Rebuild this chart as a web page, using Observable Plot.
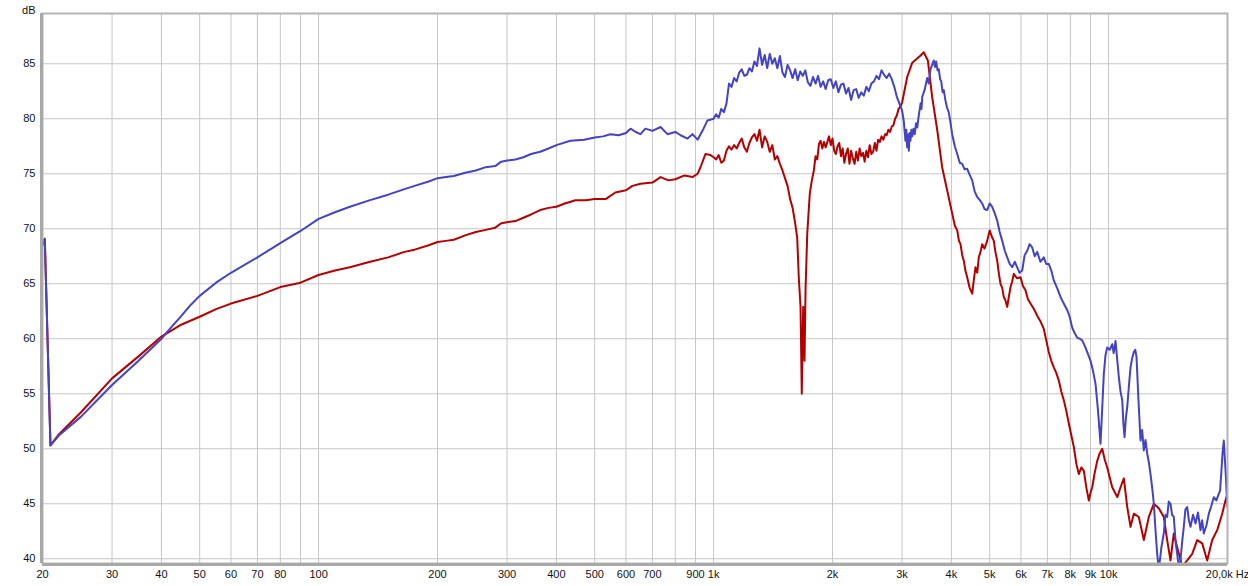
<!DOCTYPE html>
<html><head><meta charset="utf-8">
<script src="https://cdn.jsdelivr.net/npm/d3@7"></script>
<script src="https://cdn.jsdelivr.net/npm/@observablehq/plot@0.6"></script>
<style>html,body{margin:0;padding:0;background:#fff}svg{display:block}</style>
</head><body><div id="chart"></div>
<script>
// Blue series (frequency in Hz, level in dB)
const blueFreq = [20,20.27,20.95,22,25,30,35,40,42.5,45,47.5,50,55,60,70,80,90,100,110,120,135,150,165,175,190,200,210,220,235,250,265,280,290,300,315,330,345,364,382,400,434,470,500,525,548,575,600,616,635,653,672,700,734,764,800,825,859,884,911,943,965,
1000,1015,1030,1046,1062,1078,1094,1110,1127,1144,1161,1178,1196,1214,1232,1250,1269,1288,1307,1327,1347,1367,1387,1408,1429,1450,1472,1494,1516,1539,1562,1585,1609,1633,1657,1682,1707,1733,1759,1785,1812,1839,1866,1894,1922,1951,1980,2010,2040,2070,2101,2132,2164,2196,2229,2262,2296,2330,2365,2400,2436,2472,2509,2547,2585,2623,2662,2702,2742,2783,2825,2867,2910,2953,
3000,3030,3045,3060,3075,3091,3106,3121,3136,3150,3167,3184,3207,3230,3255,3278,3310,3342,3360,3375,3420,3474,3505,3540,3575,3610,3635,3660,3690,3716,3745,3770,3800,3826,3864,3900,3938,3980,
4018,4080,4138,4200,4260,4320,4386,4450,4516,4580,4648,4720,4786,4850,4928,5000,5074,5150,5224,5300,5379,5460,5538,5620,5701,5790,5869,5950,6044,6130,6223,6310,6406,6500,6595,6720,6853,6950,7056,7160,7266,7410,7556,7700,7858,7970,8090,8210,8330,8450,8575,8742,8870,9002,9130,9267,9400,9540,9630,9725,9820,9920,
10070,10214,10300,10414,10510,10616,10720,10829,10900,10974,11060,11149,11250,11364,11470,11584,11680,11768,11900,12044,12160,12281,12400,12526,12640,12768,12890,13016,13150,13275,13399,13600,13795,13930,14070,14200,14345,14480,14625,14780,14917,15060,15206,15350,15502,15650,15813,15970,16120,16360,16598,16840,17086,17250,17420,17680,17936,18200,18466,18740,19012,19150,19281,19420,19572,19700,19800,19900,20000];
const blueDb = [68.8,69.1,50.3,51.2,52.9,55.8,58.0,60.0,61.1,62.1,63.1,63.9,65.1,66.0,67.4,68.7,69.8,70.9,71.5,72.0,72.6,73.1,73.6,73.9,74.3,74.6,74.7,74.8,75.1,75.3,75.6,75.7,76.1,76.2,76.3,76.5,76.8,77.0,77.3,77.6,78.0,78.1,78.3,78.4,78.6,78.5,78.7,79.1,78.8,78.6,79.1,78.9,79.25,78.6,78.8,78.5,78.2,78.6,78.1,79.1,79.85,
80.0,80.4,80.1,80.9,80.6,81.4,83.2,82.9,83.7,83.4,84.2,84.5,83.9,84.0,84.6,84.3,85.2,84.8,86.4,84.9,85.8,84.6,85.9,85.0,85.5,84.6,85.7,84.2,83.8,84.9,84.4,83.7,84.5,83.5,84.3,83.9,84.4,83.3,83.0,83.8,83.2,83.9,82.9,83.4,82.7,83.5,83.6,82.8,83.4,82.4,83.1,83.2,82.3,82.8,81.7,82.6,82.7,81.9,82.4,82.1,82.9,82.5,83.2,83.4,83.9,83.6,84.4,84.0,83.7,84.1,83.6,82.9,82.0,81.4,
80.75,79.8,78.9,78.0,79.0,77.4,78.6,77.1,78.7,78.0,79.0,78.4,79.1,78.6,79.6,79.2,80.4,81.4,80.9,82.0,82.6,83.7,83.2,84.5,84.9,85.3,84.7,85.2,84.4,84.5,83.6,83.4,82.4,82.6,81.65,81.0,80.6,79.6,
78.6,77.5,76.8,76.0,75.9,75.4,75.45,74.9,74.4,73.4,72.9,72.6,72.3,71.8,71.7,72.3,72.0,71.4,70.75,69.7,68.9,68.0,67.4,66.8,66.5,67.0,66.5,66.0,66.2,67.6,68.0,68.6,68.3,67.5,67.9,67.0,67.4,66.8,66.8,66.2,65.3,64.6,63.8,63.2,62.6,62.0,61.0,60.5,60.1,60.0,59.85,59.2,58.6,58.0,57.1,55.9,53.5,50.45,53.5,56.8,58.5,59.2,
59.0,59.5,58.7,59.8,58.2,56.5,55.2,54.4,52.3,51.05,52.8,53.8,55.6,57.4,58.2,58.8,59.0,58.35,54.5,50.75,51.7,49.85,50.8,49.55,48.8,47.7,46.5,45.0,42.5,40.45,39.0,41.0,42.3,44.0,43.8,45.2,45.0,44.0,43.8,41.5,40.45,39.2,39.85,41.5,42.9,44.5,44.7,43.5,42.9,44.0,43.2,44.2,42.6,43.5,42.3,43.0,44.1,44.8,45.6,45.3,45.9,46.2,47.7,49.5,50.75,49.0,47.7,46.0,44.7];

// Red series
const redFreq = [20,20.27,20.95,22,25,30,35,40,45,50,55,60,70,80,90,100,110,120,135,150,165,175,190,200,210,220,235,250,265,280,290,300,315,330,345,364,382,400,420,447,475,500,533,564,600,623,653,700,734,769,800,844,884,911,930,954,982,
1000,1015,1030,1046,1062,1078,1094,1110,1127,1144,1161,1178,1196,1214,1232,1250,1269,1288,1307,1327,1347,1367,1387,1408,1429,1450,1472,1494,1516,1539,1562,1585,1609,1628,1643,1660,1672,1686,1699,1709,1726,1752,1773,1794,1812,1830,1848,1866,1885,1903,1922,1941,1960,1980,2000,2020,2040,2060,2080,2101,2122,2143,2164,2186,2208,2229,2252,2275,2296,2320,2343,2365,2390,2412,2436,2460,2484,2509,2535,2560,2585,2610,2636,2662,2690,2716,2742,2770,2797,2825,2853,2881,2910,2940,2970,
3002,3091,3184,3342,3405,3487,3576,3682,3790,3902,
4018,4080,4138,4180,4218,4260,4300,4340,4386,4450,4516,4560,4603,4650,4692,4740,4786,4850,4928,4965,5000,5060,5122,5170,5224,5280,5326,5380,5429,5480,5538,5590,5645,5700,5754,5860,5983,6070,6161,6250,6343,6470,6595,6720,6853,6950,7056,7160,7266,7370,7482,7590,7704,7820,7931,8050,8166,8290,8407,8530,8656,8790,8913,9000,9091,9220,9359,9500,9635,9780,9920,
10214,10518,10722,10930,11149,11364,11584,11926,12281,12643,13016,13399,13795,14070,14345,14625,14917,15357,15813,16280,16763,17257,17768,18294,18834,19393,19766,20000];
const redDb = [68.5,69.0,50.3,51.3,53.3,56.4,58.4,60.2,61.3,62.0,62.7,63.2,63.9,64.7,65.1,65.8,66.2,66.5,67.0,67.4,67.9,68.1,68.5,68.8,68.9,69.0,69.4,69.7,69.9,70.1,70.5,70.6,70.7,71.0,71.3,71.7,71.9,72.0,72.3,72.6,72.6,72.7,72.7,73.3,73.5,73.9,74.1,74.2,74.7,74.4,74.5,74.85,74.7,75.0,75.75,76.8,76.7,
76.5,76.3,76.7,76.0,76.2,77.1,77.5,77.2,77.6,77.3,77.8,78.2,77.4,77.0,77.8,78.3,78.6,78.0,79.0,77.4,78.4,77.9,77.0,77.6,76.3,76.6,75.9,75.3,74.6,73.9,72.7,71.9,70.5,69.2,65.6,62.9,55.0,62.9,58.0,64.4,69.5,73.2,74.4,75.3,76.6,76.3,77.7,78.0,77.3,77.9,77.4,77.9,78.4,77.6,78.2,77.1,76.8,77.5,77.8,76.6,77.3,76.0,76.8,77.3,75.9,77.1,76.4,75.9,77.0,76.2,77.3,76.6,76.9,76.1,77.1,76.5,77.6,76.8,77.0,77.8,77.1,78.1,77.9,78.4,78.1,78.6,78.5,79.0,78.8,79.3,79.4,80.0,80.3,80.9,81.1,
81.5,83.8,85.1,85.75,86.05,85.3,81.96,79.0,75.6,73.5,
71.4,70.3,69.85,68.9,68.6,67.6,67.1,66.2,65.6,64.6,64.1,65.4,66.5,66.0,67.4,67.9,68.6,68.2,68.9,69.4,69.85,69.3,68.9,67.9,67.1,65.8,65.0,64.6,63.8,63.5,62.9,63.8,64.7,65.2,65.9,65.5,65.6,64.8,64.4,63.6,63.2,62.7,62.1,61.6,60.9,59.9,58.8,58.0,57.4,56.9,56.2,55.2,54.4,53.4,52.3,51.2,50.15,48.6,47.7,48.3,48.0,46.4,45.3,46.0,46.5,47.8,48.9,49.6,50.0,49.0,48.3,
46.5,45.6,46.5,47.3,44.7,42.9,44.1,43.8,41.7,43.8,45.0,44.6,43.8,41.7,39.85,42.3,41.05,39.3,39.85,40.45,41.7,41.4,39.85,41.7,42.6,44.1,45.3,45.9];

// Axes
const yTicks = [40,45,50,55,60,65,70,75,80,85];
const xTicks = [20,30,40,50,60,70,80,100,200,300,400,500,600,700,900,1000,2000,3000,4000,5000,6000,7000,8000,9000,10000,20000];
const xTickLabels = ["20","30","40","50","60","70","80","100","200","300","400","500","600","700","900","1k","2k","3k","4k","5k","6k","7k","8k","9k","10k","20,0k Hz"];
const xGrid = [30,40,50,60,70,80,90,100,200,300,400,500,600,700,800,900,1000,2000,3000,4000,5000,6000,7000,8000,9000,10000];

const blue = blueFreq.map((f, i) => ({f, db: blueDb[i]}));
const red = redFreq.map((f, i) => ({f, db: redDb[i]}));
const xLab = xTicks.map((f, i) => ({f, t: xTickLabels[i]}));
const yMin = 39.57, yMax = 89.57;

const chart = Plot.plot({
  width: 1248, height: 586,
  marginLeft: 42, marginRight: 21, marginTop: 13, marginBottom: 23,
  style: {fontFamily: "'Liberation Sans', Arial, sans-serif", fontSize: "11px", color: "#111", background: "#fff"},
  x: {type: "log", domain: [20, 20000], axis: null},
  y: {domain: [yMin, yMax], axis: null},
  marks: [
    Plot.ruleX(xGrid, {stroke: "#c6c6c6", strokeWidth: 1}),
    Plot.ruleY(yTicks, {stroke: "#c6c6c6", strokeWidth: 1}),
    Plot.line(red, {x: "f", y: "db", stroke: "#b30000", strokeWidth: 2, clip: true}),
    Plot.line(blue, {x: "f", y: "db", stroke: "#4343c3", strokeWidth: 2, clip: true}),
    Plot.frame({stroke: "#b4b4b4", strokeWidth: 2}),
    Plot.ruleX([20], {stroke: "#a8a8a8", strokeWidth: 3, dx: -1}),
    Plot.ruleY([yMin], {stroke: "#a8a8a8", strokeWidth: 3, dy: 1}),
    Plot.text(xLab, {x: "f", text: "t", frameAnchor: "bottom", dy: 14, fill: "#111"}),
    Plot.text(yTicks, {y: d => d, text: d => String(d), frameAnchor: "left", dx: -7, textAnchor: "end", fill: "#111"}),
    Plot.text(["dB"], {frameAnchor: "top-left", dx: -7, dy: -7, textAnchor: "end", fill: "#111"})
  ]
});
document.getElementById("chart").appendChild(chart);
</script>
</body></html>
